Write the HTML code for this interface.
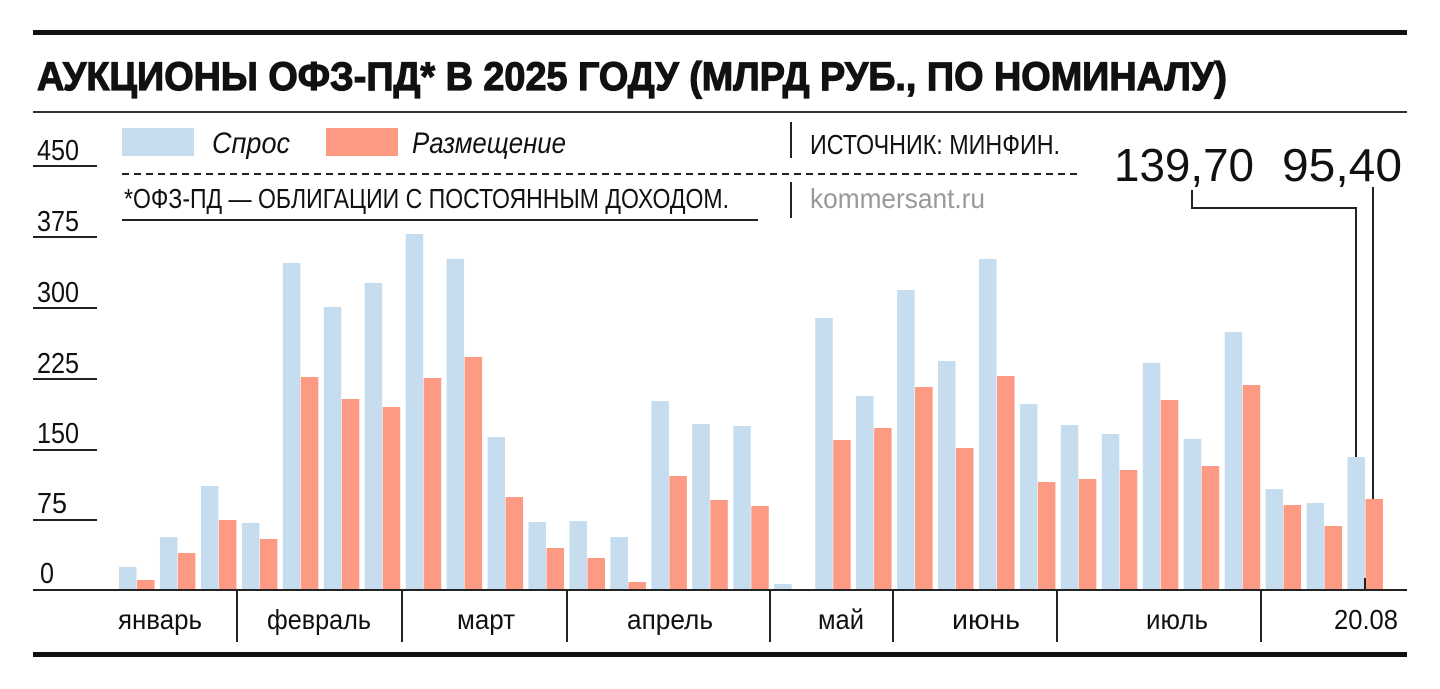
<!DOCTYPE html>
<html><head><meta charset="utf-8"><style>
html,body{margin:0;padding:0;background:#fff;}
svg{display:block;font-family:"Liberation Sans",sans-serif;}
</style></head><body>
<svg width="1440" height="689" viewBox="0 0 1440 689" xmlns="http://www.w3.org/2000/svg">
<rect width="1440" height="689" fill="#fff"/>
<rect x="33" y="30" width="1374" height="5" fill="#111"/>
<text x="37" y="90" font-size="40" font-weight="bold" stroke="#111" stroke-width="1.2" textLength="1190" lengthAdjust="spacingAndGlyphs" fill="#111">АУКЦИОНЫ ОФЗ-ПД* В 2025 ГОДУ (МЛРД РУБ., ПО НОМИНАЛУ)</text>
<rect x="33" y="111" width="1374" height="2" fill="#333"/>
<g font-size="29" fill="#111">
<text x="37" y="160" textLength="42" lengthAdjust="spacingAndGlyphs">450</text>
<text x="37" y="231" textLength="42" lengthAdjust="spacingAndGlyphs">375</text>
<text x="37" y="302" textLength="42" lengthAdjust="spacingAndGlyphs">300</text>
<text x="37" y="373" textLength="42" lengthAdjust="spacingAndGlyphs">225</text>
<text x="37" y="443" textLength="42" lengthAdjust="spacingAndGlyphs">150</text>
<text x="37" y="513" textLength="30" lengthAdjust="spacingAndGlyphs">75</text>
<text x="40" y="583" textLength="14" lengthAdjust="spacingAndGlyphs">0</text>
</g>
<g fill="#222">
<rect x="33" y="165" width="64" height="2"/>
<rect x="33" y="236" width="64" height="2"/>
<rect x="33" y="307" width="64" height="2"/>
<rect x="33" y="378" width="64" height="2"/>
<rect x="33" y="449" width="64" height="2"/>
<rect x="33" y="519" width="64" height="2"/>
</g>
<rect x="122" y="128" width="72" height="28" fill="#c5ddee"/>
<text x="212" y="153" font-size="30" font-style="italic" textLength="78" lengthAdjust="spacingAndGlyphs" fill="#111">Спрос</text>
<rect x="326" y="128" width="72" height="28" fill="#fd9a83"/>
<text x="412" y="153" font-size="30" font-style="italic" textLength="154" lengthAdjust="spacingAndGlyphs" fill="#111">Размещение</text>
<rect x="790" y="122" width="2" height="36" fill="#222"/>
<text x="810" y="154" font-size="28" textLength="250" lengthAdjust="spacingAndGlyphs" fill="#111">ИСТОЧНИК: МИНФИН.</text>
<line x1="122" y1="174" x2="1078" y2="174" stroke="#222" stroke-width="2" stroke-dasharray="7,5"/>
<text x="124" y="208" font-size="28" textLength="605" lengthAdjust="spacingAndGlyphs" fill="#111">*ОФЗ-ПД — ОБЛИГАЦИИ С ПОСТОЯННЫМ ДОХОДОМ.</text>
<rect x="122" y="219" width="636" height="2" fill="#222"/>
<rect x="790" y="182" width="2" height="36" fill="#222"/>
<text x="810" y="208" font-size="28" textLength="175" lengthAdjust="spacingAndGlyphs" fill="#999">kommersant.ru</text>
<text x="1114" y="181" font-size="46" textLength="140" lengthAdjust="spacingAndGlyphs" fill="#111">139,70</text>
<text x="1282" y="181" font-size="46" textLength="120" lengthAdjust="spacingAndGlyphs" fill="#111">95,40</text>
<polyline points="1192,190 1192,208 1356,208 1356,457" fill="none" stroke="#222" stroke-width="2"/>
<line x1="1373" y1="187" x2="1373" y2="499" stroke="#222" stroke-width="2"/>
<g id="bars"></g>
<rect x="33" y="589" width="1374" height="2" fill="#222"/>
<g fill="#222">
<rect x="236" y="590" width="2" height="52"/>
<rect x="401" y="590" width="2" height="52"/>
<rect x="566" y="590" width="2" height="52"/>
<rect x="769" y="590" width="2" height="52"/>
<rect x="892" y="590" width="2" height="52"/>
<rect x="1056" y="590" width="2" height="52"/>
<rect x="1260" y="590" width="2" height="52"/>
<rect x="1364" y="578" width="2" height="12"/>
</g>
<g font-size="28" fill="#111" text-anchor="middle">
<text x="160" y="629" textLength="84" lengthAdjust="spacingAndGlyphs">январь</text>
<text x="319" y="629" textLength="104" lengthAdjust="spacingAndGlyphs">февраль</text>
<text x="486" y="629" textLength="58" lengthAdjust="spacingAndGlyphs">март</text>
<text x="670" y="629" textLength="86" lengthAdjust="spacingAndGlyphs">апрель</text>
<text x="841" y="629" textLength="46" lengthAdjust="spacingAndGlyphs">май</text>
<text x="986" y="629" textLength="68" lengthAdjust="spacingAndGlyphs">июнь</text>
<text x="1177" y="629" textLength="62" lengthAdjust="spacingAndGlyphs">июль</text>
<text x="1366" y="629" textLength="64" lengthAdjust="spacingAndGlyphs">20.08</text>
</g>
<rect x="33" y="652" width="1374" height="5" fill="#111"/>
</svg>
<script>
var tops=[[567,580],[537,553],[486,520],[523,539],[263,377],[307,399],[283,407],[234,378],[259,357],[437,497],[522,548],[521,558],[537,582],[401,476],[424,500],[426,506],[584,589],[318,440],[396,428],[290,387],[361,448],[259,376],[404,482],[425,479],[434,470],[363,400],[439,466],[332,385],[489,505],[503,526],[457,499]];
var g=document.getElementById('bars'),ns='http://www.w3.org/2000/svg';
tops.forEach(function(t,i){
 var x=119+i*40.95;
 [[t[0],'#c5ddee',0],[t[1],'#fd9a83',18]].forEach(function(b){
  var r=document.createElementNS(ns,'rect');
  r.setAttribute('x',(x+b[2]).toFixed(1));r.setAttribute('y',b[0]);
  r.setAttribute('width',17.5);r.setAttribute('height',590-b[0]);
  r.setAttribute('fill',b[1]);g.appendChild(r);
 });
});
</script>
</body></html>
